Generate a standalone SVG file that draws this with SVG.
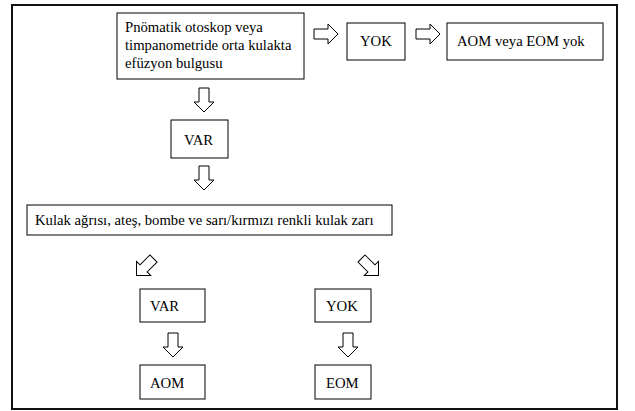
<svg xmlns="http://www.w3.org/2000/svg" width="635" height="411" viewBox="0 0 635 411">
<style>
.box{fill:#fff;stroke:#000;stroke-width:1}
.t{font-family:"Liberation Serif","Times New Roman",serif;font-size:14.7px;fill:#000}
.arr{fill:#fff;stroke:#000;stroke-width:1}
</style>
<defs>
<path id="ar" d="M-12,-5 H2 V-10 L12,0 L2,10 V5 H-12 Z"/>
</defs>
<rect x="0" y="0" width="635" height="411" fill="#fff"/>
<rect x="12" y="5" width="605" height="404" fill="none" stroke="#111" stroke-width="2"/>
<g id="n1"><rect class="box" x="117" y="13" width="187" height="66"/>
<text class="t" x="125" y="32">Pnömatik otoskop veya</text>
<text class="t" x="125" y="50">timpanometride orta kulakta</text>
<text class="t" x="125" y="68">efüzyon bulgusu</text></g>
<g id="n2"><rect class="box" x="347" y="23" width="58" height="37"/><text class="t" x="360" y="46">YOK</text></g>
<g id="n3"><rect class="box" x="447" y="23" width="156" height="37"/><text class="t" x="457" y="46">AOM veya EOM yok</text></g>
<g id="n4"><rect class="box" x="171" y="120" width="57" height="38"/><text class="t" x="184" y="145">VAR</text></g>
<g id="n5"><rect class="box" x="27" y="205" width="365" height="30"/><text class="t" x="35" y="225">Kulak ağrısı, ateş, bombe ve sarı/kırmızı renkli kulak zarı</text></g>
<g id="n6"><rect class="box" x="140" y="289" width="65" height="33"/><text class="t" x="150" y="311">VAR</text></g>
<g id="n7"><rect class="box" x="315" y="289" width="56" height="33"/><text class="t" x="326" y="311">YOK</text></g>
<g id="n8"><rect class="box" x="140" y="365" width="65" height="34"/><text class="t" x="150" y="388">AOM</text></g>
<g id="n9"><rect class="box" x="315" y="365" width="56" height="34"/><text class="t" x="326" y="388">EOM</text></g>
<g id="connectors">
<use href="#ar" class="arr" transform="translate(326,34)"/>
<use href="#ar" class="arr" transform="translate(428,34)"/>
<use href="#ar" class="arr" transform="translate(204,100) rotate(90)"/>
<use href="#ar" class="arr" transform="translate(204,178) rotate(90)"/>
<use href="#ar" class="arr" transform="translate(145,267) rotate(135)"/>
<use href="#ar" class="arr" transform="translate(370,267) rotate(45)"/>
<use href="#ar" class="arr" transform="translate(173,345) rotate(90)"/>
<use href="#ar" class="arr" transform="translate(348,345) rotate(90)"/>
</g>
</svg>
